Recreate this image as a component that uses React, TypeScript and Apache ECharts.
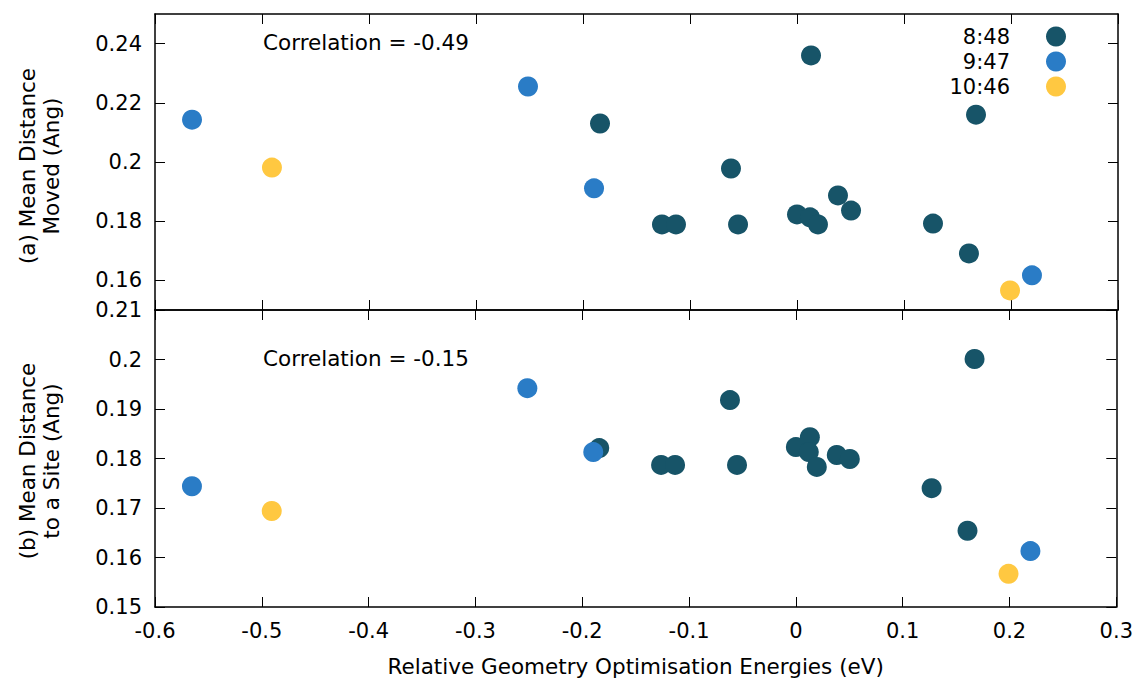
import React, { useEffect, useRef } from 'react';
import * as echarts from 'echarts';

const seriesNames = ['8:48', '9:47', '10:46'];
const seriesColors = ['#175468', '#2a7cc6', '#ffc841'];

// 8:48
const energy848 = [0.0131, -0.1841, 0.1673, -0.0617, 0.0383, -0.1262, -0.1131, -0.0551, 0.0, 0.0121, 0.0196, 0.0505, 0.1271, 0.1607];
const moved848 = [0.236, 0.213, 0.216, 0.1978, 0.1887, 0.1789, 0.1789, 0.1789, 0.1823, 0.1813, 0.1789, 0.1836, 0.1792, 0.1691];
const site848 = [0.1843, 0.1821, 0.2001, 0.1918, 0.1807, 0.1787, 0.1787, 0.1787, 0.1823, 0.1813, 0.1783, 0.1799, 0.174, 0.1654];
// 9:47
const energy947 = [-0.5654, -0.2514, -0.1897, 0.2196];
const moved947 = [0.2143, 0.2255, 0.1911, 0.1617];
const site947 = [0.1744, 0.1942, 0.1813, 0.1613];
// 10:46
const energy1046 = [-0.4907, 0.1991];
const moved1046 = [0.1981, 0.1566];
const site1046 = [0.1694, 0.1567];

const xTicks = [-0.6, -0.5, -0.4, -0.3, -0.2, -0.1, 0, 0.1, 0.2, 0.3];
const movedTicks = [0.16, 0.18, 0.2, 0.22, 0.24];
const siteTicks = [0.15, 0.16, 0.17, 0.18, 0.19, 0.2, 0.21];

const correlationTexts = ['Correlation = -0.49', 'Correlation = -0.15'];
const yTitles = ['(a) Mean Distance\nMoved (Ang)', '(b) Mean Distance\nto a Site (Ang)'];
const xTitle = 'Relative Geometry Optimisation Energies (eV)';

const FONT = 'DejaVu Sans';
const TICK_SIZE = 21;
const TITLE_SIZE = 21.5;

const pairs = (xs: number[], ys: number[]) => xs.map((x, i) => [x, ys[i]]);

function xAxisDef(gridIndex: number, position: 'top' | 'bottom', labels: boolean) {
  return {
    type: 'value',
    gridIndex,
    position,
    min: -0.6,
    max: 0.3,
    name: labels ? xTitle : '',
    nameLocation: 'middle',
    nameGap: 48,
    nameTextStyle: { fontFamily: FONT, fontSize: TITLE_SIZE, color: '#000' },
    axisLine: { show: true, onZero: false, lineStyle: { color: '#000', width: 1.5 } },
    axisTick: { show: true, inside: true, length: 10, customValues: xTicks, lineStyle: { color: '#000', width: 1 } },
    axisLabel: { show: labels, customValues: xTicks, margin: 13, fontFamily: FONT, fontSize: TICK_SIZE, color: '#000' },
    splitLine: { show: false },
  };
}

function yAxisDef(gridIndex: number, position: 'left' | 'right', labels: boolean, min: number, max: number, ticks: number[]) {
  return {
    type: 'value',
    gridIndex,
    position,
    min,
    max,
    axisLine: { show: true, onZero: false, lineStyle: { color: '#000', width: 1.5 } },
    axisTick: { show: true, inside: true, length: 10, customValues: ticks, lineStyle: { color: '#000', width: 1 } },
    axisLabel: { show: labels, customValues: ticks, margin: 13, fontFamily: FONT, fontSize: TICK_SIZE, color: '#000' },
    splitLine: { show: false },
  };
}

function scatter(name: string, color: string, xs: number[], ys: number[], axisIndex: number) {
  return {
    type: 'scatter',
    name,
    xAxisIndex: axisIndex,
    yAxisIndex: axisIndex,
    data: pairs(xs, ys),
    symbol: 'circle',
    symbolSize: 20,
    itemStyle: { color, opacity: 1 },
  };
}

export default function App() {
  const ref = useRef<HTMLDivElement>(null);
  useEffect(() => {
    if (!ref.current) return;
    const chart = echarts.init(ref.current, undefined, { renderer: 'svg' });
    chart.setOption({
      animation: false,
      backgroundColor: '#fff',
      textStyle: { fontFamily: FONT },
      grid: [
        { left: 155, right: 18, top: 14, height: 296 },
        { left: 155, right: 18, top: 310, height: 297 },
      ],
      xAxis: [
        xAxisDef(0, 'bottom', false),
        xAxisDef(0, 'top', false),
        xAxisDef(1, 'bottom', true),
        xAxisDef(1, 'top', false),
      ],
      yAxis: [
        yAxisDef(0, 'left', true, 0.15, 0.25, movedTicks),
        yAxisDef(0, 'right', false, 0.15, 0.25, movedTicks),
        yAxisDef(1, 'left', true, 0.15, 0.21, siteTicks),
        yAxisDef(1, 'right', false, 0.15, 0.21, siteTicks),
      ],
      legend: {
        orient: 'vertical',
        right: 70,
        top: 26,
        align: 'right',
        itemWidth: 20,
        itemHeight: 20,
        itemGap: 4,
        icon: 'circle',
        padding: 0,
        data: seriesNames,
        textStyle: { fontFamily: FONT, fontSize: TICK_SIZE, color: '#000', lineHeight: 20, padding: [0, 31, 0, 0] },
      },
      graphic: [
        { type: 'text', left: 263, top: 31, style: { text: correlationTexts[0], font: `${TITLE_SIZE}px "${FONT}"`, fill: '#000' } },
        { type: 'text', left: 263, top: 347, style: { text: correlationTexts[1], font: `${TITLE_SIZE}px "${FONT}"`, fill: '#000' } },
        { type: 'text', x: 39, y: 166, rotation: Math.PI / 2, style: { text: yTitles[0], font: `${TITLE_SIZE}px "${FONT}"`, fill: '#000', align: 'center', verticalAlign: 'middle', lineHeight: 24 } },
        { type: 'text', x: 39, y: 461, rotation: Math.PI / 2, style: { text: yTitles[1], font: `${TITLE_SIZE}px "${FONT}"`, fill: '#000', align: 'center', verticalAlign: 'middle', lineHeight: 24 } },
      ],
      series: [
        scatter(seriesNames[0], seriesColors[0], energy848, moved848, 0),
        scatter(seriesNames[1], seriesColors[1], energy947, moved947, 0),
        scatter(seriesNames[2], seriesColors[2], energy1046, moved1046, 0),
        scatter(seriesNames[0], seriesColors[0], energy848, site848, 2),
        scatter(seriesNames[1], seriesColors[1], energy947, site947, 2),
        scatter(seriesNames[2], seriesColors[2], energy1046, site1046, 2),
      ],
    });
    return () => chart.dispose();
  }, []);
  return <div ref={ref} style={{ position: 'absolute', left: 0, top: 0, width: 1136, height: 681 }} />;
}
